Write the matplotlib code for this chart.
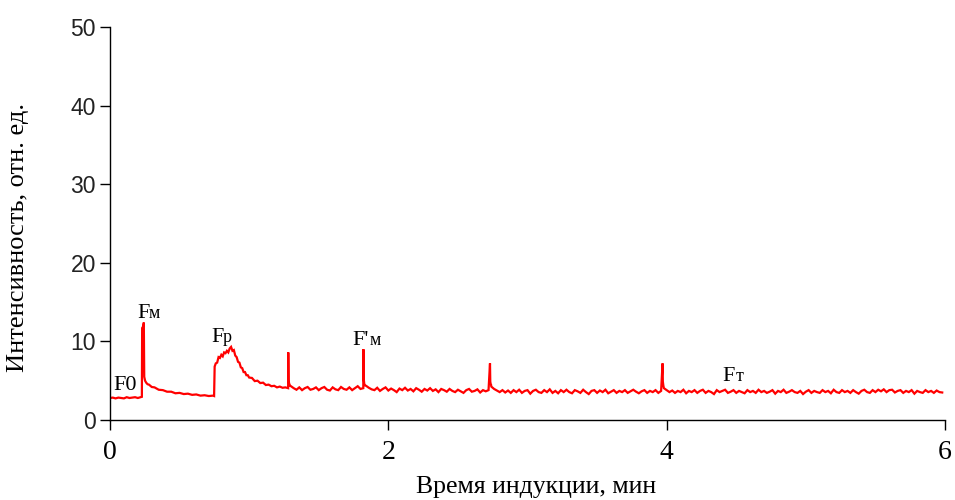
import numpy as np
import matplotlib
matplotlib.use("Agg")
import matplotlib.pyplot as plt

# ---------------- data ----------------
# early part: dark level F0, Fm peak, decay, Fp hump, decline (time, min / intensity)
t_early = [0.00, 0.02, 0.04, 0.06, 0.08, 0.10, 0.12, 0.14, 0.16, 0.18, 0.20, 0.22,
           0.229, 0.231, 0.238, 0.243, 0.246, 0.252,
           0.26, 0.27, 0.28, 0.30, 0.32, 0.35, 0.38, 0.41, 0.44, 0.47, 0.50, 0.53,
           0.56, 0.59, 0.62, 0.65, 0.68, 0.71, 0.74, 0.748,
           0.752, 0.76, 0.77, 0.78, 0.79, 0.80, 0.81, 0.82, 0.83, 0.84, 0.85, 0.86,
           0.87, 0.88, 0.89, 0.90, 0.91, 0.92, 0.93, 0.94, 0.95, 0.96, 0.97, 0.98,
           0.99, 1.00, 1.02, 1.04, 1.06, 1.08, 1.10, 1.12, 1.14, 1.16, 1.18, 1.20,
           1.22, 1.24, 1.26, 1.28]
v_early = [2.80, 2.85, 2.75, 2.85, 2.80, 2.75, 2.90, 2.80, 2.85, 2.90, 2.80, 2.90,
           2.95, 11.7, 11.9, 12.4, 5.5, 5.0,
           4.75, 4.55, 4.50, 4.20, 4.15, 3.85, 3.80, 3.60, 3.60, 3.40, 3.45, 3.30,
           3.35, 3.20, 3.25, 3.10, 3.15, 3.05, 3.10, 3.05,
           6.80, 7.20, 7.30, 8.00, 7.90, 8.30, 8.10, 8.60, 8.50, 8.80, 8.60, 9.10,
           9.30, 8.80, 8.90, 8.20, 8.00, 7.40, 7.30, 6.70, 6.60, 6.10, 6.10, 5.70,
           5.70, 5.40, 5.35, 4.95, 5.00, 4.70, 4.75, 4.45, 4.50, 4.30, 4.35, 4.15,
           4.25, 4.10, 4.15, 4.05]

# noisy steady-state level, one reading every 0.02 min from 1.30 min on
base_start = 1.30
base_step = 0.02
v_base = [
    4.30, 4.05, 3.85, 4.15, 3.80, 4.05, 4.20, 3.85, 3.95, 4.15,   # 1.30
    3.80, 4.05, 4.20, 3.85, 3.75, 4.15, 3.90, 3.80, 4.20, 3.95,   # 1.50
    3.85, 4.15, 3.80, 4.05, 4.30, 3.95, 4.05, 4.35, 4.10, 3.90,   # 1.70
    3.80, 4.10, 3.70, 3.95, 4.15, 3.75, 4.00, 3.80, 3.55, 4.00,   # 1.90
    3.80, 4.10, 3.75, 3.95, 3.65, 4.05, 3.85, 3.60, 3.95, 3.75,   # 2.10
    4.05, 3.70, 3.90, 3.55, 3.95, 3.80, 3.60, 3.95, 3.70, 3.55,   # 2.30
    3.85, 3.65, 3.45, 3.80, 3.95, 3.60, 3.70, 3.90, 3.50, 3.80,   # 2.50
    3.65, 3.80, 4.25, 3.95, 3.75, 3.55, 3.80, 3.50, 3.75, 3.45,   # 2.70
    3.80, 3.55, 3.85, 3.45, 3.70, 3.80, 3.35, 3.70, 3.85, 3.55,   # 2.90
    3.45, 3.80, 3.55, 3.90, 3.45, 3.70, 3.40, 3.80, 3.55, 3.85,   # 3.10
    3.55, 3.40, 3.80, 3.65, 3.45, 3.85, 3.55, 3.30, 3.70, 3.80,   # 3.30
    3.45, 3.75, 3.55, 3.85, 3.40, 3.60, 3.80, 3.45, 3.70, 3.55,   # 3.50
    3.80, 3.45, 3.65, 3.85, 3.60, 3.40, 3.65, 3.80, 3.45, 3.70,   # 3.70
    3.55, 3.80, 3.45, 3.70, 4.05, 3.80, 3.55, 3.75, 3.45, 3.70,   # 3.90
    3.55, 3.85, 3.40, 3.70, 3.55, 3.80, 3.45, 3.70, 3.85, 3.45,   # 4.10
    3.70, 3.55, 3.30, 3.80, 3.55, 3.70, 3.85, 3.45, 3.60, 3.80,   # 4.30
    3.45, 3.70, 3.55, 3.40, 3.80, 3.55, 3.70, 3.45, 3.85, 3.55,   # 4.50
    3.70, 3.45, 3.60, 3.80, 3.35, 3.70, 3.55, 3.85, 3.45, 3.60,   # 4.70
    3.80, 3.55, 3.45, 3.70, 3.30, 3.60, 3.80, 3.45, 3.70, 3.55,   # 4.90
    3.45, 3.80, 3.55, 3.70, 3.40, 3.85, 3.55, 3.45, 3.80, 3.55,   # 5.10
    3.70, 3.45, 3.80, 3.55, 3.35, 3.70, 3.85, 3.55, 3.45, 3.80,   # 5.30
    3.55, 3.85, 3.65, 3.90, 3.55, 3.80, 3.85, 3.50, 3.70, 3.80,   # 5.50
    3.45, 3.70, 3.55, 3.80, 3.35, 3.70, 3.55, 3.45, 3.80, 3.55,   # 5.70
    3.70, 3.45, 3.75, 3.55, 3.50,                                 # 5.90
]

# short saturating flashes (F'm probes) on top of the steady level
spike_t = [1.2810, 1.2830, 1.2880, 1.2940,
           1.8210, 1.8230, 1.8270, 1.8330,
           2.7305, 2.7325, 2.7350, 2.7380,
           3.9705, 3.9725, 3.9760]
spike_v = [8.60, 5.00, 4.60, 4.35,
           9.00, 5.30, 4.60, 4.40,
           7.20, 4.90, 4.60, 4.50,
           7.20, 4.90, 4.40]

x_ticks = [0, 2, 4, 6]
y_ticks = [0, 10, 20, 30, 40, 50]
x_label = "Время индукции, мин"
y_label = "Интенсивность, отн. ед."

# ---------------- assemble series ----------------
t_base = np.round(base_start + base_step * np.arange(len(v_base)), 3)
t_all = np.concatenate([t_early, t_base, spike_t])
v_all = np.concatenate([v_early, v_base, spike_v])
order = np.argsort(t_all, kind="stable")
t_all, v_all = t_all[order], v_all[order]

# ---------------- figure ----------------
fig = plt.figure(figsize=(9.55, 5.00), dpi=100)
ax = fig.add_axes([110 / 955, 80 / 500, 835 / 955, 393 / 500])

ax.plot(t_all, v_all, color="#ff0000", lw=1.6, solid_joinstyle="miter")

ax.set_xlim(0, 6)
ax.set_ylim(0, 50)
ax.set_xticks(x_ticks)
ax.set_yticks(y_ticks)
for s in ("top", "right"):
    ax.spines[s].set_visible(False)
for s in ("left", "bottom"):
    ax.spines[s].set_linewidth(1.0)
    ax.spines[s].set_color("black")

ax.tick_params(axis="y", direction="out", length=7.2, width=1.0, pad=3,
               labelsize=16.5, colors="black")
ax.tick_params(axis="x", direction="out", length=7.2, width=1.0, pad=7,
               labelsize=20, colors="black")
for lab in ax.get_yticklabels():
    lab.set_fontfamily("Liberation Sans")
    lab.set_color("#222222")
for lab in ax.get_xticklabels():
    lab.set_fontfamily("Liberation Serif")

serif = "Liberation Serif"
fig.text(536.5 / 955, 1 - 493 / 500, x_label, ha="center", va="baseline",
         fontsize=18.5, family=serif)
fig.text(18 / 955, 1 - 237 / 500, y_label, ha="center", va="center",
         rotation=90, fontsize=19, family=serif)

# ---------------- peak annotations ----------------
def px2data(px, py):
    return (px - 110) / (835 / 6), (420 - py) / (393 / 50)

def label(main, sub, px_main, px_sub, py_base, big=16, small=13):
    x0, y0 = px2data(px_main, py_base)
    ax.text(x0, y0, main, ha="left", va="baseline", fontsize=big, family=serif)
    if sub:
        x1, _ = px2data(px_sub, py_base)
        ax.text(x1, y0, sub, ha="left", va="baseline", fontsize=small, family=serif)

label("F0", "", 113, 0, 390)
label("F", "м", 137, 149, 318.3)
label("F", "р", 211, 223, 341.7)
label("F'", "м", 352.7, 369.5, 345)
label("F", "т", 722.7, 736, 380.7)

fig.savefig("out.png", dpi=100)
